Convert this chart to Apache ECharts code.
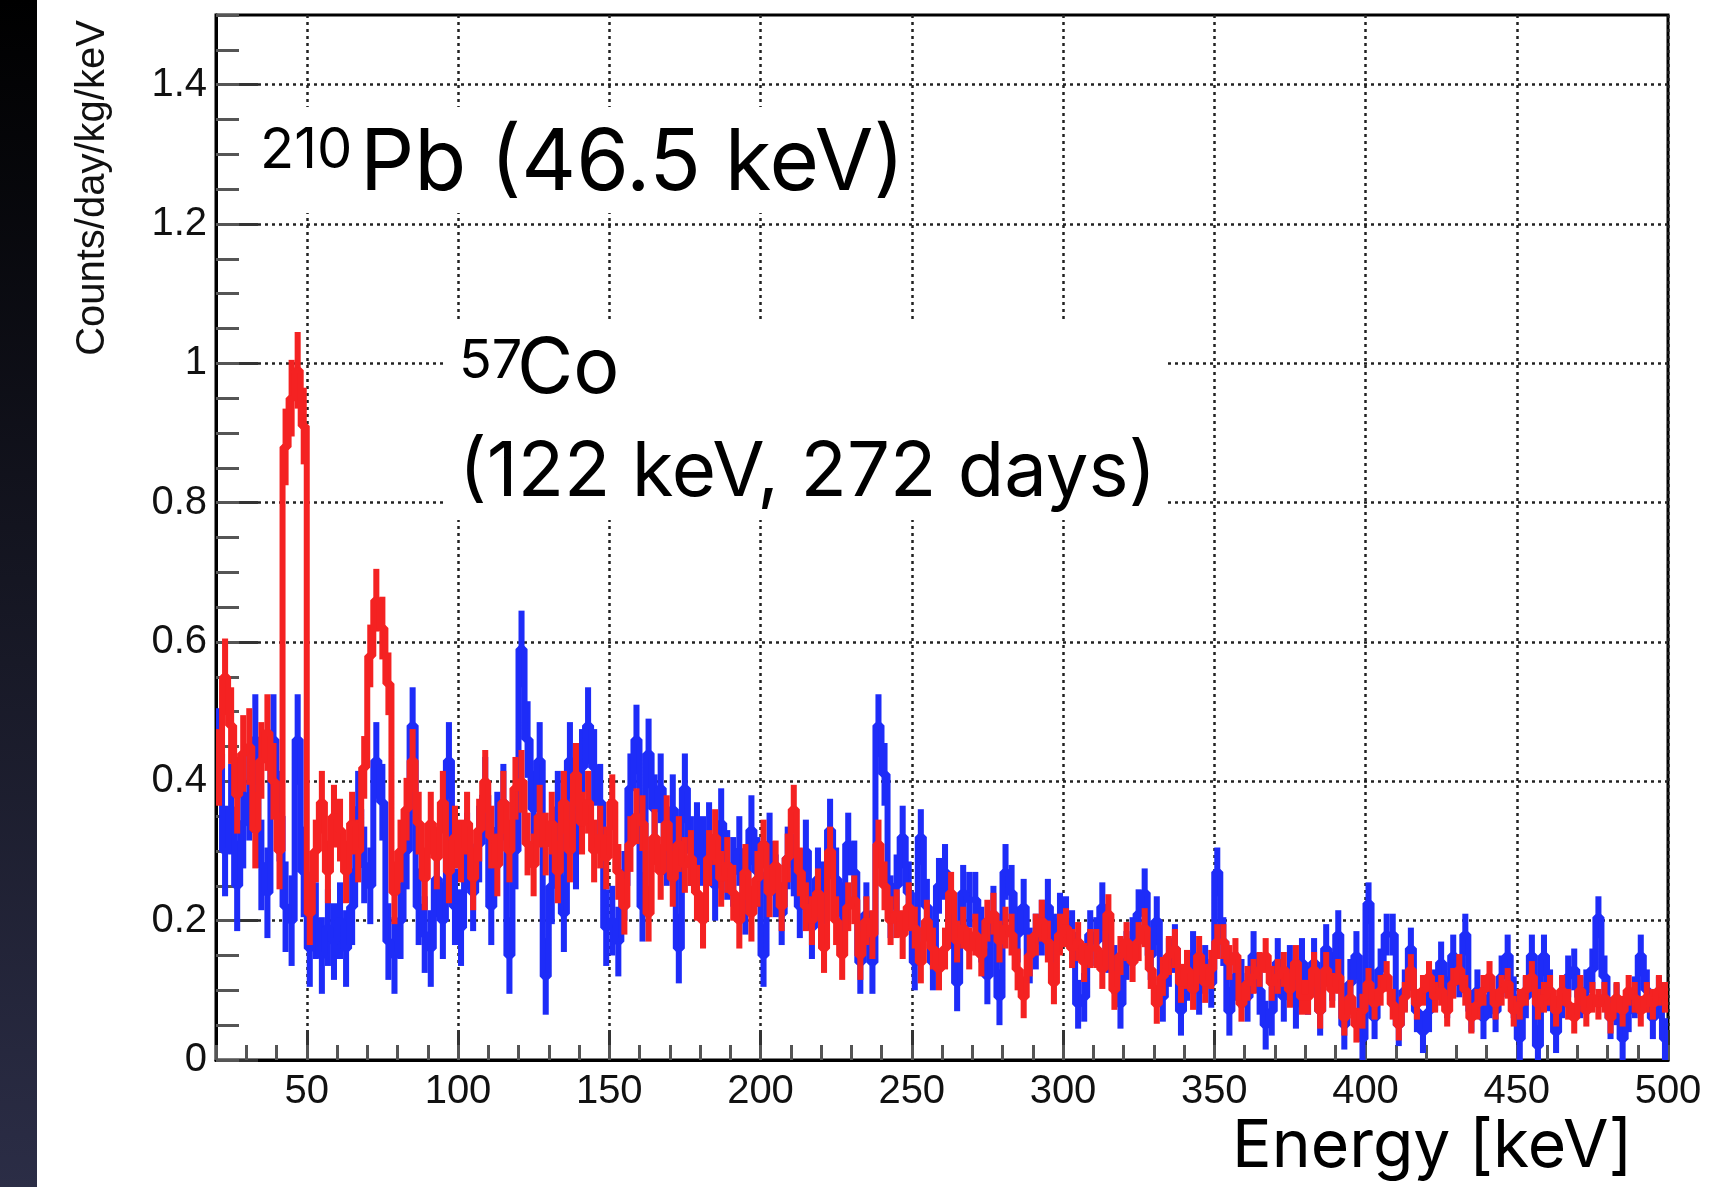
<!DOCTYPE html>
<html><head><meta charset="utf-8">
<script src="https://cdn.jsdelivr.net/npm/echarts@6/dist/echarts.min.js"></script>
<style>html,body{margin:0;padding:0;background:#fff}#c{width:1736px;height:1187px}</style>
</head><body><div id="c"></div>
<script>
// Histogram: 2 keV bins from 20 keV to 500 keV
const BIN_LO = 20, BIN_W = 2;

const blueCounts = [
  0.44,0.30,0.36,0.25,0.34, 0.38,0.46,0.28,0.24,0.46,
  0.35,0.22,0.20,0.46,0.27, 0.16,0.20,0.15,0.19,0.17,
  0.20,0.16,0.22,0.36,0.28, 0.25,0.43,0.37,0.17,0.15,
  0.20,0.30,0.48,0.22,0.18, 0.16,0.26,0.20,0.43,0.22,
  0.19,0.30,0.24,0.31,0.38, 0.22,0.33,0.37,0.15,0.30,
  0.59,0.46,0.36,0.43,0.12, 0.25,0.36,0.21,0.43,0.30,
  0.42,0.48,0.42,0.37,0.19, 0.20,0.17,0.25,0.39,0.46,
  0.22,0.44,0.36,0.39,0.30, 0.36,0.16,0.39,0.30,0.32,
  0.30,0.32,0.25,0.34,0.28, 0.27,0.30,0.23,0.33,0.27,
  0.15,0.31,0.25,0.21,0.29, 0.28,0.22,0.30,0.19,0.26,
  0.24,0.33,0.26,0.21,0.31, 0.27,0.14,0.21,0.14,0.48,
  0.41,0.22,0.25,0.32,0.24, 0.14,0.32,0.22,0.14,0.25,
  0.27,0.20,0.11,0.24,0.23, 0.23,0.18,0.12,0.21,0.09,
  0.27,0.24,0.18,0.22,0.15, 0.17,0.19,0.22,0.17,0.20,
  0.20,0.18,0.08,0.09,0.18, 0.17,0.22,0.16,0.13,0.08,
  0.15,0.17,0.21,0.24,0.15, 0.20,0.09,0.14,0.16,0.07,
  0.12,0.15,0.10,0.13,0.11, 0.27,0.17,0.07,0.12,0.11,
  0.09,0.15,0.10,0.05,0.07, 0.14,0.09,0.13,0.08,0.14,
  0.10,0.14,0.07,0.16,0.12, 0.18,0.05,0.11,0.15,0.03,
  0.225,0.06,0.13,0.18,0.18, 0.05,0.10,0.16,0.07,0.04,
  0.07,0.10,0.14,0.09,0.15, 0.12,0.18,0.07,0.10,0.06,
  0.09,0.07,0.12,0.15,0.09, 0.03,0.09,0.15,0.02,0.15,
  0.10,0.04,0.09,0.12,0.13, 0.09,0.10,0.13,0.205,0.12,
  0.06,0.08,0.03,0.07,0.09, 0.15,0.10,0.06,0.09,0.03
];

const redCounts = [
  0.42,0.55,0.48,0.38,0.44, 0.45,0.33,0.43,0.47,0.40,
  0.30,0.88,0.95,0.99,0.91, 0.21,0.30,0.37,0.27,0.35,
  0.33,0.27,0.34,0.30,0.42, 0.58,0.66,0.62,0.54,0.24,
  0.30,0.36,0.43,0.34,0.26, 0.34,0.29,0.37,0.27,0.32,
  0.30,0.34,0.26,0.33,0.40, 0.32,0.28,0.37,0.30,0.39,
  0.40,0.31,0.28,0.35,0.31, 0.34,0.27,0.37,0.30,0.41,
  0.34,0.37,0.30,0.32,0.29, 0.37,0.27,0.22,0.31,0.35,
  0.34,0.21,0.32,0.27,0.34, 0.26,0.31,0.28,0.29,0.24,
  0.20,0.29,0.32,0.26,0.28, 0.24,0.20,0.27,0.21,0.26,
  0.31,0.24,0.28,0.22,0.29, 0.36,0.27,0.22,0.20,0.24,
  0.16,0.30,0.20,0.15,0.22, 0.23,0.15,0.20,0.18,0.31,
  0.25,0.20,0.21,0.18,0.22, 0.19,0.14,0.20,0.16,0.13,
  0.16,0.24,0.17,0.19,0.16, 0.18,0.15,0.20,0.21,0.17,
  0.19,0.18,0.13,0.09,0.15, 0.18,0.20,0.17,0.11,0.18,
  0.19,0.16,0.17,0.14,0.16, 0.16,0.13,0.21,0.10,0.15,
  0.17,0.14,0.17,0.19,0.13, 0.08,0.12,0.15,0.16,0.11,
  0.13,0.10,0.15,0.11,0.13, 0.17,0.17,0.14,0.15,0.08,
  0.11,0.12,0.13,0.15,0.11, 0.12,0.13,0.10,0.14,0.09,
  0.09,0.13,0.07,0.13,0.10, 0.12,0.06,0.09,0.05,0.07,
  0.11,0.08,0.10,0.12,0.08, 0.05,0.09,0.13,0.08,0.10,
  0.12,0.09,0.10,0.07,0.11, 0.13,0.10,0.06,0.08,0.10,
  0.12,0.08,0.10,0.11,0.07, 0.08,0.10,0.12,0.08,0.09,
  0.10,0.07,0.10,0.08,0.06, 0.10,0.07,0.09,0.08,0.09,
  0.06,0.09,0.07,0.10,0.09, 0.07,0.09,0.08,0.10,0.09
];

// Typical error-bar half length, read per 50 keV band (0-50, 50-100, ... 450-500)
const blueErrBand = [0.065,0.055,0.055,0.05,0.045,0.04,0.035,0.035,0.03,0.03];
const redErrBand  = [0.055,0.045,0.045,0.04,0.035,0.03,0.028,0.025,0.022,0.022];

const xMajorTicks = [50,100,150,200,250,300,350,400,450,500];
const yMajorTicks = [0,0.2,0.4,0.6,0.8,1,1.2,1.4];
const xTitle = 'Energy [keV]';
const yTitle = 'Counts/day/kg/keV';

function binCenter(i){ return BIN_LO + BIN_W*(i+0.5); }
function toPairs(arr){ return arr.map((v,i)=>[binCenter(i), v]); }
function toTriples(arr, band){ return arr.map((v,i)=>{ const x = binCenter(i); return [x, v, band[Math.min(band.length-1, Math.floor(x/50))]]; }); }

const GL = 216, GT = 15, GW = 1452, GH = 1045;
const labelFont = 'Liberation Sans, Arial, Helvetica, sans-serif';
const annFont = 'Inter, "DejaVu Sans", sans-serif';
const BLUE = '#1e2cf8', RED = '#f42222';

function errRender(color){
  return function(params, api){
    const x = api.value(0), v = api.value(1), e = api.value(2);
    const p1 = api.coord([x - BIN_W/2, v + e]);
    const p2 = api.coord([x + BIN_W/2, Math.max(v - e, 0)]);
    return {type:'rect', shape:{x:p1[0], y:p1[1], width:p2[0]-p1[0], height:p2[1]-p1[1]}, style:{fill:color}};
  };
}

const chart = echarts.init(document.getElementById('c'), null, {renderer:'canvas'});
chart.setOption({
  animation:false,
  backgroundColor:'#ffffff',
  grid:{left:GL, top:GT, width:GW, height:GH, show:true, borderColor:'#000', borderWidth:3, backgroundColor:'transparent'},
  xAxis:[{
    type:'value', min:20, max:500, position:'bottom',
    axisLine:{show:true, onZero:false, lineStyle:{color:'#000', width:3}},
    axisTick:{show:true, inside:true, length:30, customValues:xMajorTicks, lineStyle:{color:'#333', width:3}},
    axisLabel:{show:true, customValues:xMajorTicks, fontSize:40, fontFamily:labelFont, color:'#111', margin:12},
    splitLine:{show:true, lineStyle:{color:'#222', width:2.5, type:[3,4]}}
  },{
    type:'value', min:20, max:500, interval:10, position:'bottom',
    axisLine:{show:false}, axisLabel:{show:false}, splitLine:{show:false},
    axisTick:{show:true, inside:true, length:15, lineStyle:{color:'#555', width:3}}
  }],
  yAxis:[{
    type:'value', min:0, max:1.5, position:'left',
    axisLine:{show:true, onZero:false, lineStyle:{color:'#000', width:3}},
    axisTick:{show:true, inside:true, length:42, customValues:yMajorTicks, lineStyle:{color:'#333', width:3}},
    axisLabel:{show:true, customValues:yMajorTicks, fontSize:40, fontFamily:labelFont, color:'#111', margin:9},
    splitLine:{show:true, lineStyle:{color:'#222', width:2.5, type:[3,4]}}
  },{
    type:'value', min:0, max:1.5, interval:0.05, position:'left', offset:0,
    axisLine:{show:false}, axisLabel:{show:false}, splitLine:{show:false},
    axisTick:{show:true, inside:true, length:23, lineStyle:{color:'#555', width:3}}
  }],
  series:[{
    name:'blue', type:'line', step:'middle', xAxisIndex:0, yAxisIndex:0,
    data:toPairs(blueCounts), showSymbol:false, z:3,
    lineStyle:{color:BLUE, width:6}
  },{
    name:'blue errors', type:'custom', xAxisIndex:0, yAxisIndex:0, z:3, clip:true,
    renderItem:errRender(BLUE), data:toTriples(blueCounts, blueErrBand), encode:{x:0, y:1}
  },{
    name:'red', type:'line', step:'middle', xAxisIndex:0, yAxisIndex:0,
    data:toPairs(redCounts), showSymbol:false, z:4,
    lineStyle:{color:RED, width:6}
  },{
    name:'red errors', type:'custom', xAxisIndex:0, yAxisIndex:0, z:4, clip:true,
    renderItem:errRender(RED), data:toTriples(redCounts, redErrBand), encode:{x:0, y:1}
  }],
  graphic:[
    {type:'rect', z:0, shape:{x:0, y:0, width:37, height:1187},
     style:{fill:{type:'linear', x:0, y:0, x2:0, y2:1, colorStops:[{offset:0,color:'#000000'},{offset:1,color:'#2b2d46'}]}}},
    {type:'rect', z:10, shape:{x:243, y:107, width:660, height:106}, style:{fill:'#fff'}},
    {type:'rect', z:10, shape:{x:446, y:320, width:722, height:200}, style:{fill:'#fff'}},
    {type:'text', z:20, x:260, y:151, style:{text:'210', fontSize:56, fontFamily:annFont, fill:'#000', align:'left', verticalAlign:'middle'}},
    {type:'text', z:20, x:360, y:164, style:{text:'Pb (46.5 keV)', fontSize:85, fontFamily:annFont, fill:'#000', align:'left', verticalAlign:'middle'}},
    {type:'text', z:20, x:459, y:362, style:{text:'57', fontSize:54, fontFamily:annFont, fill:'#000', align:'left', verticalAlign:'middle'}},
    {type:'text', z:20, x:517, y:370, style:{text:'Co', fontSize:77, fontFamily:annFont, fill:'#000', align:'left', verticalAlign:'middle'}},
    {type:'text', z:20, x:459, y:473, style:{text:'(122 keV, 272 days)', fontSize:76, fontFamily:annFont, fill:'#000', align:'left', verticalAlign:'middle'}},
    {type:'text', z:20, x:1232, y:1147, style:{text:xTitle, fontSize:66, fontFamily:annFont, fill:'#000', align:'left', verticalAlign:'middle'}},
    {type:'text', z:20, x:93, y:188, rotation:Math.PI/2, style:{text:yTitle, fontSize:40, fontFamily:labelFont, fill:'#111', align:'center', verticalAlign:'middle'}}
  ]
});
</script></body></html>
